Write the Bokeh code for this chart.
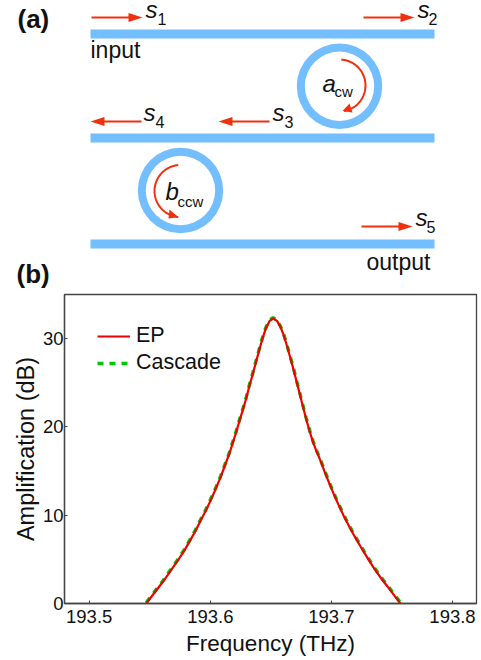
import numpy as np
from bokeh.plotting import figure
from bokeh.layouts import column, row
from bokeh.models import Range1d, FixedTicker, Legend, LegendItem
from bokeh.core.properties import value
from bokeh.embed import file_html
from bokeh.resources import INLINE

FONT = "Liberation Sans"
BLUE = "#73BEFF"
ARROW = "#F0300F"

# ---- data
frequency = [193.5471, 193.5545, 193.5609, 193.5669, 193.5725, 193.5780, 193.5829, 193.5876, 193.5920,
             193.5967, 193.6008, 193.6047, 193.6085, 193.6121, 193.6155, 193.6185, 193.6212, 193.6242,
             193.6270, 193.6298, 193.6322, 193.6350, 193.6375, 193.6400, 193.6427, 193.6455, 193.6488,
             193.6518, 193.6551, 193.6579, 193.6606, 193.6634, 193.6661, 193.6689, 193.6713, 193.6738,
             193.6766, 193.6791, 193.6818, 193.6848, 193.6878, 193.6909, 193.6942, 193.6981, 193.7019,
             193.7058, 193.7102, 193.7146, 193.7193, 193.7243, 193.7295, 193.7347, 193.7405, 193.7463,
             193.7523, 193.7570]
amplification_ep = [0.0, 1.33, 2.46, 3.64, 4.73, 5.87, 7.04, 8.18, 9.39,
                    10.63, 11.85, 13.06, 14.31, 15.63, 16.88, 18.17, 19.34, 20.74,
                    21.99, 23.31, 24.6, 25.96, 27.25, 28.5, 29.82, 31.03, 31.98,
                    32.28, 32.01, 31.33, 30.39, 29.14, 27.81, 26.41, 25.09, 23.77,
                    22.25, 20.93, 19.6, 18.28, 17.2, 16.2, 14.99, 13.66, 12.41,
                    11.2, 9.92, 8.74, 7.57, 6.4, 5.22, 4.09, 2.95, 1.93,
                    0.84, 0.0]
amplification_cascade = [0.1, 1.45, 2.58, 3.76, 4.85, 5.99, 7.16, 8.3, 9.51,
                         10.75, 11.97, 13.18, 14.43, 15.75, 17.0, 18.29, 19.46, 20.86,
                         22.11, 23.43, 24.72, 26.08, 27.37, 28.62, 29.94, 31.15, 32.1,
                         32.38, 32.11, 31.43, 30.51, 29.26, 27.93, 26.53, 25.21, 23.89,
                         22.37, 21.05, 19.72, 18.4, 17.32, 16.32, 15.11, 13.78, 12.53,
                         11.32, 10.04, 8.86, 7.69, 6.52, 5.34, 4.21, 3.07, 2.05,
                         0.96, 0.1]
x_ticks = [193.5, 193.6, 193.7, 193.8]
y_ticks = [0, 10, 20, 30]

# ---- panel (a): schematic, in page pixel coordinates
top = figure(width=481, height=291, output_backend="svg", toolbar_location=None,
             x_range=Range1d(0, 481), y_range=Range1d(291, 0),
             min_border=0, min_border_left=0, min_border_right=0, min_border_top=0, min_border_bottom=0)
top.axis.visible = False
top.grid.visible = False
top.outline_line_color = None

top.quad(left=[90, 90, 90], right=[434, 434, 434], top=[29, 133, 239], bottom=[38, 142, 248],
         fill_color=BLUE, line_color=None)
top.annulus(x=[339, 180], y=[85.7, 190], inner_radius=34.7, outer_radius=42.7,
            fill_color=BLUE, line_color=None)


def straight(x0, x1, y):
    d = 1 if x1 > x0 else -1
    top.line([x0, x1 - d * 8], [y, y], line_color=ARROW, line_width=2)
    top.patch([x1, x1 - d * 14, x1 - d * 14], [y, y - 4.5, y + 4.5], fill_color=ARROW, line_color=None)


for x0, x1, y in [(91, 142, 17), (363, 414, 17), (141, 90, 121), (269, 218, 121), (361, 412, 226)]:
    straight(x0, x1, y)

t1 = np.radians(np.linspace(-86, 80, 50))
top.line(339 + 26 * np.cos(t1), 85 + 26 * np.sin(t1), line_color=ARROW, line_width=2)
top.patch([342, 349, 352], [110.5, 103, 112], fill_color=ARROW, line_color=None)
t2 = np.radians(np.linspace(-95, -265, 50))
top.line(180 + 26 * np.cos(t2), 190.5 + 26 * np.sin(t2), line_color=ARROW, line_width=2)
top.patch([178, 169, 168], [216.7, 209, 218], fill_color=ARROW, line_color=None)


def label(x, y, s, size, style="normal"):
    top.text([x], [y - 0.36 * size], text=[s], text_font=value(FONT), text_font_size=f"{size}px",
             text_font_style=style, text_color="#111111", text_baseline="middle", text_align="left",
             text_line_height=0.8)


label(17, 28, "(a)", 26, "bold")
label(16, 283, "(b)", 26, "bold")
label(90, 58, "input", 23)
label(366, 270, "output", 23)
for x, y, name, sx, sy, sub in [(145, 18, "s", 157, 24, "1"), (417, 18, "s", 428, 24, "2"),
                                (143, 121, "s", 155, 127, "4"), (272, 121, "s", 284, 127, "3"),
                                (415, 226, "s", 426, 232, "5")]:
    label(x, y, name, 24, "italic")
    label(sx, sy, sub, 16)
label(322, 92, "a", 24, "italic")
label(334, 96, "cw", 15)
label(165, 200, "b", 24, "italic")
label(177, 206, "ccw", 15)

# ---- panel (b)
p = figure(width=481, height=369, output_backend="svg", toolbar_location=None,
           x_range=Range1d(193.4796, 193.8198), y_range=Range1d(0, 35),
           min_border_left=64, min_border_right=5, min_border_top=3, min_border_bottom=57)
p.grid.visible = False
p.outline_line_color = "#444444"
p.outline_line_width = 1.3
p.xaxis.ticker = FixedTicker(ticks=x_ticks)
p.yaxis.ticker = FixedTicker(ticks=y_ticks)
p.xaxis.axis_label = "Frequency (THz)"
p.yaxis.axis_label = "Amplification (dB)"
for ax in (p.xaxis[0], p.yaxis[0]):
    ax.axis_line_color = "#444444"
    ax.axis_line_width = 1.3
    ax.major_tick_line_color = "#444444"
    ax.major_tick_in = 3
    ax.major_tick_out = 0
    ax.minor_tick_line_color = None
    ax.major_label_text_font = FONT
    ax.major_label_text_font_size = "18.5px"
    ax.major_label_text_color = "#111111"
    ax.axis_label_text_font = FONT
    ax.axis_label_text_font_style = "normal"
    ax.axis_label_text_color = "#111111"
p.xaxis.axis_label_text_font_size = "22.5px"
p.yaxis.axis_label_text_font_size = "23.5px"
p.xaxis.major_label_standoff = 6
p.xaxis.axis_label_standoff = 5
p.yaxis.major_label_standoff = 1
p.yaxis.axis_label_standoff = 1

cascade = p.line(frequency, amplification_cascade, line_color="#00C800", line_width=3.4, line_dash="6 6")
ep = p.line(frequency, amplification_ep, line_color="#F00000", line_width=2.2)
legend = Legend(items=[LegendItem(label="EP", renderers=[ep]), LegendItem(label="Cascade", renderers=[cascade])],
                location=(33, 228), border_line_color=None, background_fill_alpha=0,
                padding=0, margin=0, spacing=2, glyph_width=33, glyph_height=22, label_standoff=6,
                label_text_font=FONT, label_text_font_size="21.5px", label_text_color="#111111")
p.add_layout(legend)

page = column(row(top), row(p), spacing=0)
open("out.html", "w").write(file_html(page, INLINE))
